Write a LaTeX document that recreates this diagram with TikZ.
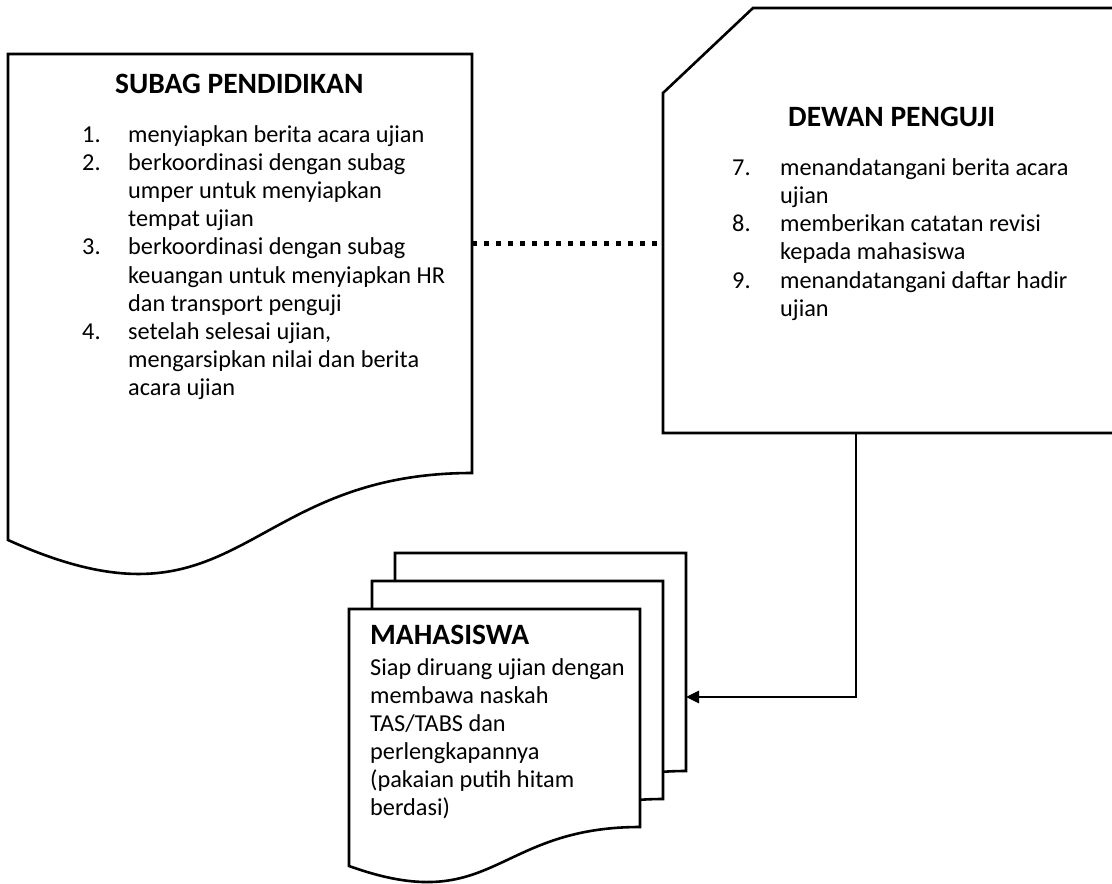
\documentclass[tikz,border=0pt]{standalone}
\usepackage{fontspec}
\setmainfont{Carlito}
\usetikzlibrary{arrows.meta}
\begin{document}
\begin{tikzpicture}[x=1pt,y=-1pt,
  outline/.style={draw=black, line width=2.6pt, fill=white, line join=miter},
  bodytext/.style={anchor=base west, inner sep=0pt, font=\fontsize{24.3}{28}\selectfont},
  headtext/.style={anchor=base west, inner sep=0pt, font=\fontsize{29.5}{34}\selectfont\bfseries},
  dotline/.style={line width=5pt, dash pattern=on 5pt off 7pt},
  link/.style={line width=2.6pt, -{Triangle[length=13pt,width=12pt]}}]
\useasboundingbox (0,0) rectangle (1112,884);

% document shape: SUBAG PENDIDIKAN
\draw[outline] (8,54) -- (472,54) -- (472,473)
  .. controls (240,473) and (240,645) .. (8,540) -- cycle;

% card shape (cut corner): DEWAN PENGUJI
\draw[outline] (753,8) -- (1118,8) -- (1118,433) -- (663,433) -- (663,93) -- cycle;

% multi-document stack: MAHASISWA
\foreach \dx/\dy in {46/-56, 23/-28, 0/0}{
  \begin{scope}[shift={(\dx,\dy)}]
    \draw[outline] (349,609) -- (640,609) -- (640,827)
      .. controls (494,827) and (494,918) .. (349,866) -- cycle;
  \end{scope}
}

% connection points
\coordinate (subagE) at (472,243);
\coordinate (dewanW) at (663,243);
\coordinate (dewanS) at (856,433);
\coordinate (mhsE) at (686,697);

\draw[dotline] (subagE) -- (dewanW);
\draw[link] (dewanS) |- (mhsE);

% SUBAG PENDIDIKAN text
\node[headtext] (subagT) at (115,93) {SUBAG PENDIDIKAN};
\node[bodytext] (sn1) at (82,142) {1.};
\node[bodytext] (sn2) at (82,170.2) {2.};
\node[bodytext] (sn3) at (82,254.8) {3.};
\node[bodytext] (sn4) at (82,339.4) {4.};
\foreach \ln [count=\k from 0] in {menyiapkan berita acara ujian, berkoordinasi dengan subag,
  umper untuk menyiapkan, tempat ujian, berkoordinasi dengan subag,
  keuangan untuk menyiapkan HR, dan transport penguji, {setelah selesai ujian,},
  mengarsipkan nilai dan berita, acara ujian}
  \node[bodytext] (sl\k) at (128,{142+28.2*\k}) {\ln};

% DEWAN PENGUJI text
\node[headtext] (dewanT) at (788,126) {DEWAN PENGUJI};
\node[bodytext] (dn7) at (732,175) {7.};
\node[bodytext] (dn8) at (732,231.6) {8.};
\node[bodytext] (dn9) at (732,288.2) {9.};
\foreach \ln [count=\k from 0] in {menandatangani berita acara, ujian,
  memberikan catatan revisi, kepada mahasiswa, menandatangani daftar hadir, ujian}
  \node[bodytext] (dl\k) at (780,{175+28.3*\k}) {\ln};

% MAHASISWA text
\node[headtext] (mhsT) at (370,644) {MAHASISWA};
\foreach \ln [count=\k from 0] in {{Siap diruang ujian dengan}, {membawa naskah},
  {TAS/TABS dan}, {perlengkapannya}, {(pakaian putih hitam}, {berdasi)}}
  \node[bodytext] (ml\k) at (370,{675+28*\k}) {\ln};
\end{tikzpicture}
\end{document}
